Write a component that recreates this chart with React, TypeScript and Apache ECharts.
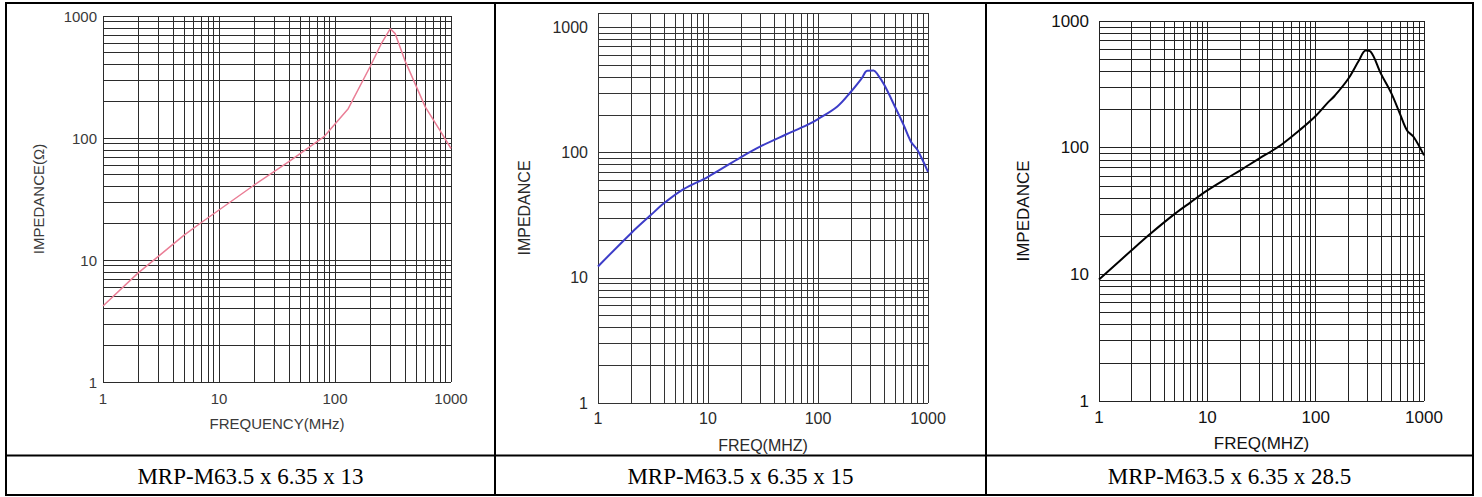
import React, { useEffect, useRef } from "react";
import * as echarts from "echarts";

// ---- data ----
const freq1 = [1, 2, 3, 5, 7, 10, 20, 40, 80, 130, 200, 250, 300, 330, 400, 600, 800, 1000];
const imp1 = [4.2, 7.8, 10.7, 16, 20.2, 25.7, 41, 64, 102, 174, 382, 590, 787, 717, 433, 180, 116, 82];

const freq2 = [1, 2, 3, 4, 6, 10, 20, 30, 50, 80, 100, 150, 200, 250, 280, 320, 350, 400, 500, 600, 700, 800, 1000];
const imp2 = [12.3, 22.7, 31.5, 39.5, 51, 64, 92, 112, 138, 166, 185, 233, 307, 392, 450, 452, 417, 347, 233, 166, 122, 105, 70];

const freq3 = [1, 2, 3, 5, 7, 10, 15, 20, 30, 40, 50, 70, 100, 130, 150, 200, 250, 290, 320, 400, 500, 600, 700, 800, 1000];
const imp3 = [9.1, 15.5, 21, 30, 37, 46, 57, 66, 82, 95, 108, 136, 178, 228, 257, 350, 485, 585, 575, 384, 268, 185, 136, 122, 87];

const gridValues = [1, 2, 3, 4, 5, 6, 7, 8, 9, 10, 20, 30, 40, 50, 60, 70, 80, 90, 100, 200, 300, 400, 500, 600, 700, 800, 900, 1000];
const decadeLabels = [1, 10, 100, 1000];

const captions = ["MRP-M63.5 x 6.35 x 13", "MRP-M63.5 x 6.35 x 15", "MRP-M63.5 x 6.35 x 28.5"];
const yNames = ["IMPEDANCE(Ω)", "IMPEDANCE", "IMPEDANCE"];
const xNames = ["FREQUENCY(MHz)", "FREQ(MHZ)", "FREQ(MHZ)"];

const fmt = (v: number) => {
  const r = Math.round(v);
  return decadeLabels.includes(r) && Math.abs(v - r) < 1e-6 * r ? String(r) : "";
};

export default function App() {
  const ref = useRef<HTMLDivElement>(null);
  useEffect(() => {
    if (!ref.current) return;
    const chart = echarts.init(ref.current, undefined, { renderer: "svg" });

    const grids = [
      { left: 103, top: 16, width: 348, height: 366 },
      { left: 598, top: 13, width: 330, height: 390 },
      { left: 1099, top: 21, width: 325, height: 380 },
    ];
    const yMax = [1000, 1300, 1000];
    const fontSizes = [15, 16, 17];
    const nameSizes = [15, 16, 17];
    const labelColors = ["#3a3a3a", "#2a2a2a", "#111"];
    const gridColors = ["#2b2b2b", "#333", "#222"];
    const xLabelMargin = [9, 7, 8];
    const yLabelMargin = [6, 10, 10];
    const yNameGap = [57, 66, 67];
    const xNameGap = [34, 34, 34];
    const lineColors = ["#ea7e96", "#3d3dc8", "#000"];
    const lineWidths = [1.5, 2, 2];
    const freqs = [freq1, freq2, freq3];
    const imps = [imp1, imp2, imp3];
    const smooths = [false, 0.35, 0.35];

    const xAxis = grids.map((_, i) => ({
      type: "log",
      logBase: 10,
      gridIndex: i,
      min: 1,
      max: 1000,
      name: xNames[i],
      nameLocation: "middle",
      nameGap: xNameGap[i],
      nameTextStyle: { fontSize: nameSizes[i], color: labelColors[i], fontFamily: "Liberation Sans" },
      axisLine: { show: false },
      axisTick: { show: false },
      splitLine: { show: false },
      axisLabel: {
        formatter: fmt,
        fontSize: fontSizes[i],
        color: labelColors[i],
        fontFamily: "Liberation Sans",
        margin: xLabelMargin[i],
        showMinLabel: true,
        showMaxLabel: true,
      },
    }));

    const yAxis = grids.map((_, i) => ({
      type: "log",
      logBase: 10,
      gridIndex: i,
      min: 1,
      max: yMax[i],
      name: yNames[i],
      nameLocation: "middle",
      nameGap: yNameGap[i],
      nameTextStyle: { fontSize: nameSizes[i], color: labelColors[i], fontFamily: "Liberation Sans" },
      axisLine: { show: false },
      axisTick: { show: false },
      splitLine: { show: false },
      axisLabel: {
        formatter: fmt,
        fontSize: fontSizes[i],
        color: labelColors[i],
        fontFamily: "Liberation Sans",
        margin: yLabelMargin[i],
        showMinLabel: true,
        showMaxLabel: true,
      },
    }));

    const series = grids.map((_, i) => {
      const yGrid = yMax[i] > 1000 ? [...gridValues, yMax[i]] : gridValues;
      return {
        type: "line",
        xAxisIndex: i,
        yAxisIndex: i,
        data: freqs[i].map((f, k) => [f, imps[i][k]]),
        showSymbol: false,
        smooth: smooths[i],
        z: 3,
        lineStyle: { color: lineColors[i], width: lineWidths[i] },
        emphasis: { disabled: true },
        markLine: {
          silent: true,
          symbol: ["none", "none"],
          z: 1,
          animation: false,
          label: { show: false },
          emphasis: { disabled: true },
          lineStyle: { color: gridColors[i], width: 1, type: "solid" },
          data: [
            ...gridValues.map((v) => ({ xAxis: v })),
            ...yGrid.map((v) => ({ yAxis: v })),
          ],
        },
      };
    });

    const colX = [6, 495, 986, 1473];
    const graphic: any[] = [
      { type: "rect", shape: { x: 6, y: 3, width: 1467, height: 492 }, style: { fill: "none", stroke: "#000", lineWidth: 2 }, silent: true },
      { type: "line", shape: { x1: 495, y1: 3, x2: 495, y2: 495 }, style: { stroke: "#000", lineWidth: 2 }, silent: true },
      { type: "line", shape: { x1: 986, y1: 3, x2: 986, y2: 495 }, style: { stroke: "#000", lineWidth: 2 }, silent: true },
      { type: "line", shape: { x1: 6, y1: 455.5, x2: 1473, y2: 455.5 }, style: { stroke: "#000", lineWidth: 2 }, silent: true },
      ...captions.map((c, i) => ({
        type: "text",
        x: (colX[i] + colX[i + 1]) / 2,
        y: 476,
        silent: true,
        style: {
          text: c,
          fontSize: 23,
          fontFamily: "Liberation Serif",
          fill: "#000",
          align: "center",
          verticalAlign: "middle",
        },
      })),
    ];

    chart.setOption({
      animation: false,
      backgroundColor: "#fff",
      grid: grids.map((g) => ({ ...g, containLabel: false, outerBoundsMode: "none" })),
      xAxis,
      yAxis,
      series,
      graphic,
    } as any);

    return () => chart.dispose();
  }, []);

  return (
    <div
      ref={ref}
      style={{ position: "fixed", left: 0, top: 0, width: 1482, height: 497, background: "#fff" }}
    />
  );
}
